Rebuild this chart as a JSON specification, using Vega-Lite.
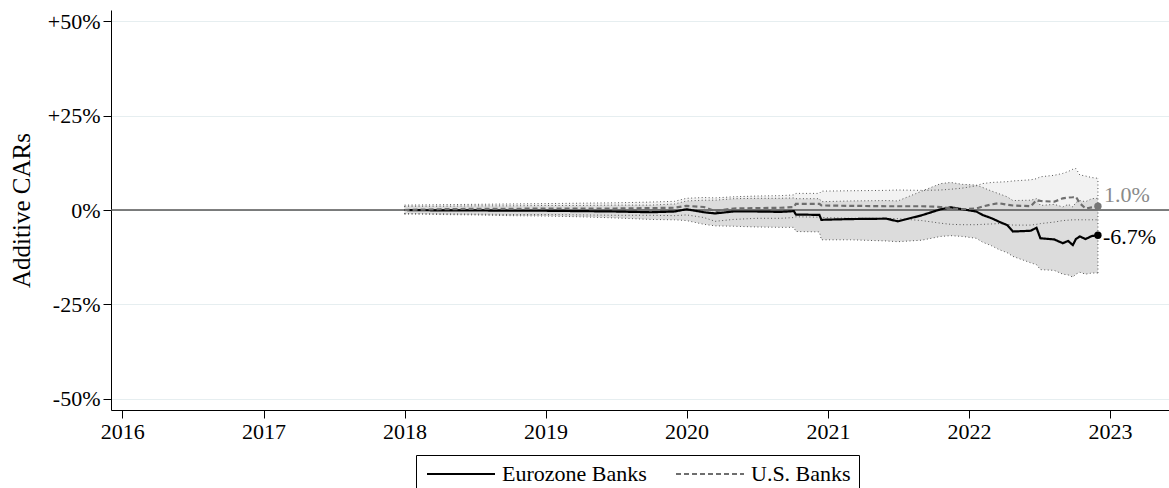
{
  "$schema": "https://vega.github.io/schema/vega-lite/v6.json",
  "width": 1058,
  "height": 400,
  "autosize": "none",
  "padding": {"left": 111, "top": 10, "right": 0, "bottom": 78},
  "background": "white",
  "config": {
    "font": "Liberation Serif",
    "view": {"stroke": null},
    "axis": {
      "labelFont": "Liberation Serif",
      "titleFont": "Liberation Serif",
      "labelColor": "black",
      "titleColor": "black",
      "domainColor": "black",
      "tickColor": "black",
      "labelFontSize": 22,
      "tickSize": 8
    }
  },
  "datasets": {
    "cars": [
      {"date": "2018-01-01", "bank": "Eurozone Banks", "car": 0.0, "lo": -0.9, "hi": 1.0},
      {"date": "2018-04-01", "bank": "Eurozone Banks", "car": -0.1, "lo": -1.2, "hi": 1.0},
      {"date": "2018-07-01", "bank": "Eurozone Banks", "car": -0.1, "lo": -1.3, "hi": 1.1},
      {"date": "2018-10-01", "bank": "Eurozone Banks", "car": -0.2, "lo": -1.5, "hi": 1.1},
      {"date": "2019-01-01", "bank": "Eurozone Banks", "car": -0.2, "lo": -1.6, "hi": 1.2},
      {"date": "2019-04-01", "bank": "Eurozone Banks", "car": -0.3, "lo": -1.8, "hi": 1.2},
      {"date": "2019-07-01", "bank": "Eurozone Banks", "car": -0.4, "lo": -2.1, "hi": 1.3},
      {"date": "2019-10-01", "bank": "Eurozone Banks", "car": -0.6, "lo": -2.5, "hi": 1.3},
      {"date": "2019-12-01", "bank": "Eurozone Banks", "car": -0.4, "lo": -2.6, "hi": 1.6},
      {"date": "2020-01-01", "bank": "Eurozone Banks", "car": 0.2, "lo": -2.8, "hi": 2.4},
      {"date": "2020-02-15", "bank": "Eurozone Banks", "car": -0.6, "lo": -3.8, "hi": 2.6},
      {"date": "2020-03-15", "bank": "Eurozone Banks", "car": -0.9, "lo": -4.2, "hi": 2.6},
      {"date": "2020-05-01", "bank": "Eurozone Banks", "car": -0.4, "lo": -4.3, "hi": 3.0},
      {"date": "2020-07-01", "bank": "Eurozone Banks", "car": -0.4, "lo": -4.5, "hi": 3.1},
      {"date": "2020-09-01", "bank": "Eurozone Banks", "car": -0.5, "lo": -4.6, "hi": 3.1},
      {"date": "2020-10-05", "bank": "Eurozone Banks", "car": -0.3, "lo": -4.6, "hi": 3.2},
      {"date": "2020-10-10", "bank": "Eurozone Banks", "car": -1.2, "lo": -5.7, "hi": 3.0},
      {"date": "2020-12-10", "bank": "Eurozone Banks", "car": -1.3, "lo": -5.8, "hi": 3.0},
      {"date": "2020-12-15", "bank": "Eurozone Banks", "car": -2.6, "lo": -7.9, "hi": 2.2},
      {"date": "2021-03-01", "bank": "Eurozone Banks", "car": -2.4, "lo": -7.9, "hi": 2.4},
      {"date": "2021-06-01", "bank": "Eurozone Banks", "car": -2.3, "lo": -8.2, "hi": 2.5},
      {"date": "2021-07-01", "bank": "Eurozone Banks", "car": -3.0, "lo": -8.4, "hi": 2.4},
      {"date": "2021-09-01", "bank": "Eurozone Banks", "car": -1.4, "lo": -8.0, "hi": 5.0},
      {"date": "2021-10-20", "bank": "Eurozone Banks", "car": 0.2, "lo": -7.0, "hi": 7.0},
      {"date": "2021-11-15", "bank": "Eurozone Banks", "car": 0.7, "lo": -6.8, "hi": 7.3},
      {"date": "2021-12-15", "bank": "Eurozone Banks", "car": 0.2, "lo": -7.0, "hi": 6.8},
      {"date": "2022-01-20", "bank": "Eurozone Banks", "car": -0.4, "lo": -7.5, "hi": 6.6},
      {"date": "2022-02-05", "bank": "Eurozone Banks", "car": -1.3, "lo": -8.5, "hi": 6.0},
      {"date": "2022-03-01", "bank": "Eurozone Banks", "car": -2.2, "lo": -9.5, "hi": 5.0},
      {"date": "2022-03-20", "bank": "Eurozone Banks", "car": -3.1, "lo": -10.5, "hi": 4.3},
      {"date": "2022-04-10", "bank": "Eurozone Banks", "car": -4.0, "lo": -11.3, "hi": 3.5},
      {"date": "2022-04-25", "bank": "Eurozone Banks", "car": -5.7, "lo": -12.3, "hi": 2.5},
      {"date": "2022-06-10", "bank": "Eurozone Banks", "car": -5.5, "lo": -14.0, "hi": 2.6},
      {"date": "2022-06-25", "bank": "Eurozone Banks", "car": -4.7, "lo": -14.5, "hi": 3.0},
      {"date": "2022-07-05", "bank": "Eurozone Banks", "car": -7.5, "lo": -15.8, "hi": 1.2},
      {"date": "2022-08-10", "bank": "Eurozone Banks", "car": -7.8, "lo": -16.0, "hi": 1.5},
      {"date": "2022-09-01", "bank": "Eurozone Banks", "car": -8.8, "lo": -17.0, "hi": 0.8},
      {"date": "2022-09-15", "bank": "Eurozone Banks", "car": -8.2, "lo": -17.2, "hi": 1.5},
      {"date": "2022-09-27", "bank": "Eurozone Banks", "car": -9.3, "lo": -17.8, "hi": 0.8},
      {"date": "2022-10-05", "bank": "Eurozone Banks", "car": -7.7, "lo": -17.0, "hi": 2.0},
      {"date": "2022-10-15", "bank": "Eurozone Banks", "car": -7.0, "lo": -16.5, "hi": 2.5},
      {"date": "2022-10-30", "bank": "Eurozone Banks", "car": -7.7, "lo": -17.0, "hi": 2.2},
      {"date": "2022-11-15", "bank": "Eurozone Banks", "car": -6.9, "lo": -16.7, "hi": 3.0},
      {"date": "2022-12-01", "bank": "Eurozone Banks", "car": -6.7, "lo": -16.7, "hi": 3.1},
      {"date": "2018-01-01", "bank": "U.S. Banks", "car": 0.0, "lo": -1.1, "hi": 1.3},
      {"date": "2018-04-01", "bank": "U.S. Banks", "car": 0.2, "lo": -1.0, "hi": 1.4},
      {"date": "2018-07-01", "bank": "U.S. Banks", "car": 0.3, "lo": -1.1, "hi": 1.5},
      {"date": "2018-10-01", "bank": "U.S. Banks", "car": 0.3, "lo": -1.2, "hi": 1.6},
      {"date": "2019-01-01", "bank": "U.S. Banks", "car": 0.4, "lo": -1.2, "hi": 1.7},
      {"date": "2019-04-01", "bank": "U.S. Banks", "car": 0.4, "lo": -1.3, "hi": 1.8},
      {"date": "2019-07-01", "bank": "U.S. Banks", "car": 0.4, "lo": -1.4, "hi": 1.9},
      {"date": "2019-10-01", "bank": "U.S. Banks", "car": 0.5, "lo": -1.4, "hi": 2.1},
      {"date": "2019-12-01", "bank": "U.S. Banks", "car": 0.6, "lo": -1.5, "hi": 2.3},
      {"date": "2020-01-01", "bank": "U.S. Banks", "car": 1.1, "lo": -1.3, "hi": 3.1},
      {"date": "2020-02-15", "bank": "U.S. Banks", "car": 0.8, "lo": -2.0, "hi": 3.3},
      {"date": "2020-03-15", "bank": "U.S. Banks", "car": -0.3, "lo": -3.0, "hi": 3.2},
      {"date": "2020-05-01", "bank": "U.S. Banks", "car": 0.4, "lo": -2.5, "hi": 3.5},
      {"date": "2020-07-01", "bank": "U.S. Banks", "car": 0.5, "lo": -2.2, "hi": 3.7},
      {"date": "2020-09-01", "bank": "U.S. Banks", "car": 0.6, "lo": -2.2, "hi": 3.8},
      {"date": "2020-10-05", "bank": "U.S. Banks", "car": 0.8, "lo": -2.0, "hi": 4.0},
      {"date": "2020-10-10", "bank": "U.S. Banks", "car": 1.6, "lo": -1.8, "hi": 4.4},
      {"date": "2020-12-10", "bank": "U.S. Banks", "car": 1.6, "lo": -1.9, "hi": 4.4},
      {"date": "2020-12-15", "bank": "U.S. Banks", "car": 1.2, "lo": -2.0, "hi": 5.0},
      {"date": "2021-03-01", "bank": "U.S. Banks", "car": 1.1, "lo": -2.2, "hi": 5.1},
      {"date": "2021-06-01", "bank": "U.S. Banks", "car": 1.0, "lo": -2.2, "hi": 5.2},
      {"date": "2021-07-01", "bank": "U.S. Banks", "car": 1.0, "lo": -2.3, "hi": 5.3},
      {"date": "2021-09-01", "bank": "U.S. Banks", "car": 1.0, "lo": -2.8, "hi": 5.2},
      {"date": "2021-10-20", "bank": "U.S. Banks", "car": 0.8, "lo": -3.5, "hi": 5.3},
      {"date": "2021-11-15", "bank": "U.S. Banks", "car": 0.4, "lo": -3.8, "hi": 5.5},
      {"date": "2021-12-15", "bank": "U.S. Banks", "car": 0.2, "lo": -3.9, "hi": 5.8},
      {"date": "2022-01-20", "bank": "U.S. Banks", "car": 0.4, "lo": -3.9, "hi": 6.4},
      {"date": "2022-02-05", "bank": "U.S. Banks", "car": 0.9, "lo": -3.8, "hi": 7.0},
      {"date": "2022-03-01", "bank": "U.S. Banks", "car": 1.5, "lo": -3.7, "hi": 7.3},
      {"date": "2022-03-20", "bank": "U.S. Banks", "car": 1.8, "lo": -3.6, "hi": 7.4},
      {"date": "2022-04-10", "bank": "U.S. Banks", "car": 1.4, "lo": -3.8, "hi": 7.5},
      {"date": "2022-04-25", "bank": "U.S. Banks", "car": 1.2, "lo": -4.0, "hi": 7.7},
      {"date": "2022-06-10", "bank": "U.S. Banks", "car": 1.0, "lo": -4.0, "hi": 8.0},
      {"date": "2022-06-25", "bank": "U.S. Banks", "car": 2.6, "lo": -3.8, "hi": 8.3},
      {"date": "2022-07-05", "bank": "U.S. Banks", "car": 2.4, "lo": -3.6, "hi": 8.8},
      {"date": "2022-08-10", "bank": "U.S. Banks", "car": 2.2, "lo": -3.2, "hi": 9.2},
      {"date": "2022-09-01", "bank": "U.S. Banks", "car": 3.1, "lo": -2.8, "hi": 9.7},
      {"date": "2022-09-15", "bank": "U.S. Banks", "car": 3.3, "lo": -2.7, "hi": 10.2},
      {"date": "2022-09-27", "bank": "U.S. Banks", "car": 3.4, "lo": -2.6, "hi": 10.8},
      {"date": "2022-10-05", "bank": "U.S. Banks", "car": 3.5, "lo": -2.6, "hi": 11.0},
      {"date": "2022-10-15", "bank": "U.S. Banks", "car": 1.8, "lo": -2.6, "hi": 9.3},
      {"date": "2022-10-30", "bank": "U.S. Banks", "car": 0.4, "lo": -2.6, "hi": 9.0},
      {"date": "2022-11-15", "bank": "U.S. Banks", "car": 0.7, "lo": -2.6, "hi": 8.6},
      {"date": "2022-12-01", "bank": "U.S. Banks", "car": 1.0, "lo": -2.6, "hi": 8.4}
    ],
    "ends": [
      {"date": "2022-12-01", "bank": "Eurozone Banks", "car": -6.7, "label": "-6.7%"},
      {"date": "2022-12-01", "bank": "U.S. Banks", "car": 1.0, "label": "1.0%"}
    ],
    "edges": [
      {"date": "2018-01-01", "lo": -1.1, "hi": 1.3},
      {"date": "2022-12-01", "lo": -16.7, "hi": 8.4}
    ]
  },
  "layer": [
    {
      "data": {"name": "cars"},
      "transform": [{"filter": "datum.bank == 'U.S. Banks'"}],
      "mark": {"type": "area", "color": "#f2f2f2", "opacity": 1},
      "encoding": {
        "x": {
          "field": "date", "type": "temporal",
          "scale": {"type": "utc", "domain": [{"year": 2015, "month": 12, "date": 3, "utc": true}, {"year": 2023, "month": 6, "date": 3, "utc": true}]},
          "axis": {
            "title": null,
            "grid": false,
            "format": "%Y",
            "values": [
              {"year": 2016, "utc": true}, {"year": 2017, "utc": true}, {"year": 2018, "utc": true},
              {"year": 2019, "utc": true}, {"year": 2020, "utc": true}, {"year": 2021, "utc": true},
              {"year": 2022, "utc": true}, {"year": 2023, "utc": true}
            ],
            "labelPadding": 3,
            "labelFlush": false,
            "labelOverlap": false
          }
        },
        "y": {
          "field": "lo", "type": "quantitative",
          "scale": {"domain": [-53, 53], "nice": false, "zero": false},
          "axis": {
            "title": "Additive CARs",
            "titleFontSize": 25,
            "titleFontWeight": "normal",
            "titlePadding": 13,
            "values": [-50, -25, 0, 25, 50],
            "labelExpr": "datum.value > 0 ? '+' + datum.value + '%' : datum.value + '%'",
            "labelPadding": 3,
            "grid": true,
            "gridColor": "#e6eef0",
            "gridWidth": 1.2
          }
        },
        "y2": {"field": "hi"}
      }
    },
    {
      "data": {"name": "cars"},
      "transform": [{"filter": "datum.bank == 'Eurozone Banks'"}],
      "mark": {"type": "area", "color": "#dcdcdc", "opacity": 1},
      "encoding": {
        "x": {"field": "date", "type": "temporal"},
        "y": {"field": "lo", "type": "quantitative"},
        "y2": {"field": "hi"}
      }
    },
    {
      "data": {"values": [{}]},
      "mark": {"type": "rule", "color": "#555555", "strokeWidth": 1.3},
      "encoding": {"y": {"datum": 0, "type": "quantitative"}}
    },
    {
      "data": {"name": "cars"},
      "mark": {"type": "line", "color": "#555555", "strokeWidth": 1, "strokeDash": [1, 2.5]},
      "encoding": {
        "x": {"field": "date", "type": "temporal"},
        "y": {"field": "lo", "type": "quantitative"},
        "detail": {"field": "bank"}
      }
    },
    {
      "data": {"name": "cars"},
      "mark": {"type": "line", "color": "#555555", "strokeWidth": 1, "strokeDash": [1, 2.5]},
      "encoding": {
        "x": {"field": "date", "type": "temporal"},
        "y": {"field": "hi", "type": "quantitative"},
        "detail": {"field": "bank"}
      }
    },
    {
      "data": {"name": "edges"},
      "mark": {"type": "rule", "color": "#555555", "strokeWidth": 1, "strokeDash": [1, 2.5]},
      "encoding": {
        "x": {"field": "date", "type": "temporal"},
        "y": {"field": "lo", "type": "quantitative"},
        "y2": {"field": "hi"}
      }
    },
    {
      "data": {"name": "cars"},
      "mark": {"type": "line", "strokeWidth": 2.2},
      "encoding": {
        "x": {"field": "date", "type": "temporal"},
        "y": {"field": "car", "type": "quantitative"},
        "color": {
          "field": "bank", "type": "nominal",
          "scale": {"domain": ["Eurozone Banks", "U.S. Banks"], "range": ["#000000", "#6e6e6e"]},
          "legend": {
            "title": null,
            "orient": "none",
            "legendX": 305,
            "legendY": 445,
            "direction": "horizontal",
            "symbolType": "M-4,0H4",
            "symbolSize": 289,
            "symbolStrokeWidth": 2,
            "symbolOffset": 26,
            "labelFont": "Liberation Serif",
            "labelFontSize": 22,
            "labelColor": "black",
            "labelOffset": 30,
            "columnPadding": 25,
            "strokeColor": "black",
            "fillColor": "white",
            "padding": 8
          }
        },
        "strokeDash": {
          "field": "bank", "type": "nominal",
          "scale": {"domain": ["Eurozone Banks", "U.S. Banks"], "range": [[1, 0], [5, 3]]}
        }
      }
    },
    {
      "data": {"name": "ends"},
      "transform": [{"filter": "datum.bank == 'Eurozone Banks'"}],
      "mark": {"type": "point", "filled": true, "size": 55, "color": "#000000", "opacity": 1},
      "encoding": {
        "x": {"field": "date", "type": "temporal"},
        "y": {"field": "car", "type": "quantitative"}
      }
    },
    {
      "data": {"name": "ends"},
      "transform": [{"filter": "datum.bank == 'U.S. Banks'"}],
      "mark": {"type": "point", "filled": true, "size": 55, "color": "#777777", "opacity": 1},
      "encoding": {
        "x": {"field": "date", "type": "temporal"},
        "y": {"field": "car", "type": "quantitative"}
      }
    },
    {
      "data": {"name": "ends"},
      "transform": [{"filter": "datum.bank == 'Eurozone Banks'"}],
      "mark": {"type": "text", "align": "left", "baseline": "middle", "dx": 5, "dy": 2, "fontSize": 22, "color": "#000000", "font": "Liberation Serif"},
      "encoding": {
        "x": {"field": "date", "type": "temporal"},
        "y": {"field": "car", "type": "quantitative"},
        "text": {"field": "label"}
      }
    },
    {
      "data": {"name": "ends"},
      "transform": [{"filter": "datum.bank == 'U.S. Banks'"}],
      "mark": {"type": "text", "align": "left", "baseline": "middle", "dx": 6, "dy": -11, "fontSize": 22, "color": "#8a8a8a", "font": "Liberation Serif"},
      "encoding": {
        "x": {"field": "date", "type": "temporal"},
        "y": {"field": "car", "type": "quantitative"},
        "text": {"field": "label"}
      }
    }
  ]
}
